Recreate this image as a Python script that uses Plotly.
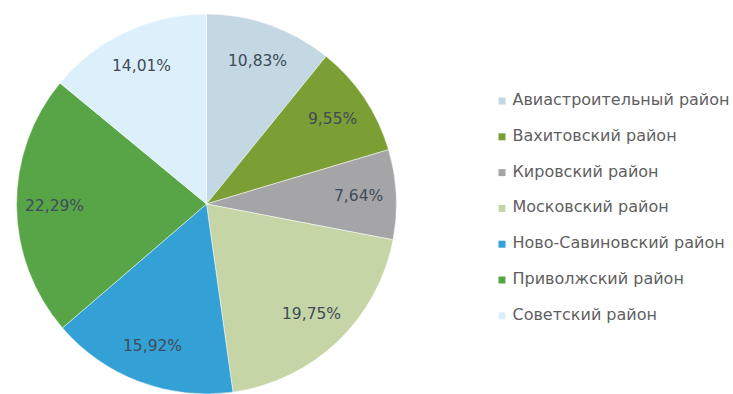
import math
import plotly.graph_objects as go

# District shares, percent
districts = [
    "Авиастроительный район",
    "Вахитовский район",
    "Кировский район",
    "Московский район",
    "Ново-Савиновский район",
    "Приволжский район",
    "Советский район",
]
shares = [10.83, 9.55, 7.64, 19.75, 15.92, 22.29, 14.01]
colors = ["#c3d8e3", "#7c9f35", "#a5a5a7", "#c5d5a6", "#33a0d6", "#58a548", "#dcf0fb"]

W, H = 733, 394
dom_x = [15 / W, 398 / W]
dom_y = [0.0, 1 - 14 / H]

fig = go.Figure()
fig.add_trace(go.Pie(
    labels=districts,
    values=shares,
    sort=False,
    direction="clockwise",
    rotation=0,
    marker=dict(colors=colors, line=dict(color="white", width=0.5)),
    textinfo="none",
    hoverinfo="label+value",
    showlegend=False,
    domain=dict(x=dom_x, y=dom_y),
))

# Pie geometry in pixel units (radius = half the smaller domain side)
cx = (dom_x[0] + dom_x[1]) / 2 * W
cy = (1 - (dom_y[0] + dom_y[1]) / 2) * H
r = min((dom_x[1] - dom_x[0]) * W, (dom_y[1] - dom_y[0]) * H) / 2

# Percentage labels placed at 80% of the radius on each slice's mid-angle
total = sum(shares)
start = 0.0
for v in shares:
    mid = (start + v / 2) / total * 2 * math.pi
    start += v
    fig.add_annotation(
        x=cx + 0.8 * r * math.sin(mid), y=cy - 0.8 * r * math.cos(mid),
        xref="x", yref="y", xanchor="center", yanchor="middle",
        text=f"{v:.2f}%".replace(".", ","), showarrow=False,
        font=dict(family="DejaVu Sans", size=15.5, color="#3f4b58"),
    )

# Legend: square swatches with district names
leg_x = [502] * len(districts)
leg_y = [101 + 35.8 * i for i in range(len(districts))]
fig.add_trace(go.Scatter(
    x=leg_x, y=leg_y, mode="markers+text",
    text=["\u00a0" + d for d in districts], textposition="middle right",
    textfont=dict(family="DejaVu Sans", size=16, color="#5f5f5f"),
    marker=dict(symbol="square", size=7, color=colors),
    hoverinfo="skip", showlegend=False, cliponaxis=False,
))

fig.update_layout(
    width=W, height=H,
    margin=dict(l=0, r=0, t=0, b=0),
    paper_bgcolor="white", plot_bgcolor="rgba(0,0,0,0)",
    xaxis=dict(visible=False, range=[0, W], domain=[0, 1], fixedrange=True),
    yaxis=dict(visible=False, range=[H, 0], domain=[0, 1], fixedrange=True),
    showlegend=False,
)
fig.write_html("out.html")
